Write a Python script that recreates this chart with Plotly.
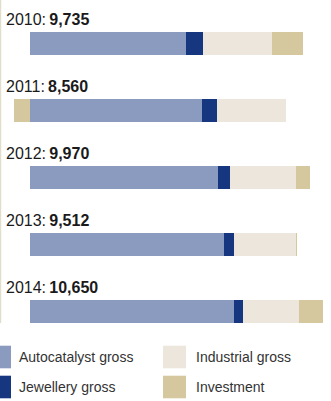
import plotly.graph_objects as go

W, H = 331, 401

years = ["2010", "2011", "2012", "2013", "2014"]
totals = ["9,735", "8,560", "9,970", "9,512", "10,650"]
autocatalyst = [5560, 6155, 6705, 6940, 7280]
jewellery = [615, 505, 445, 355, 320]
industrial = [2465, 2465, 2350, 2207, 1995]
investment = [1095, -565, 470, 10, 855]

series_names = ["Autocatalyst gross", "Jewellery gross", "Industrial gross", "Investment"]
series_values = [autocatalyst, jewellery, industrial, investment]
colors = ["#8a9bbf", "#163680", "#ede6dc", "#d6c89e"]

fig = go.Figure()
for name, vals, col in zip(series_names, series_values, colors):
    fig.add_trace(go.Bar(
        y=list(range(len(years))), x=vals, orientation="h", name=name,
        marker=dict(color=col, line=dict(width=0)), width=0.339,
        hoverinfo="skip", showlegend=False,
    ))

def px(xp):
    return xp / W

def py(yp):
    return 1 - yp / H

scale = 35.6  # units per pixel
zero_px = 29.5
spacing = 67.0
first_center = 43.3

annotations = []
for i, (yr, tot) in enumerate(zip(years, totals)):
    annotations.append(dict(
        xref="paper", yref="y", x=px(3.5), y=i - (first_center - 19.5) / spacing,
        xanchor="left", yanchor="middle", showarrow=False,
        text=f"{yr}:\u2009<b>{tot}</b>",
        font=dict(family="Liberation Sans, Arial, sans-serif", size=16, color="#1a1a1a"),
    ))

shapes = [dict(type="rect", xref="paper", yref="paper", x0=0, x1=px(1.2), y0=py(323), y1=py(0),
               fillcolor="#e2ddc8", line=dict(width=0), layer="below")]

legend_pos = [(0, 11, 357, 17), (0, 11, 387, 17), (163, 186, 357, 194), (163, 186, 387, 194)]
for (x0, x1, yc, tx), name, col in zip(legend_pos, series_names, colors):
    shapes.append(dict(type="rect", xref="paper", yref="paper", x0=px(x0), x1=px(x1),
                       y0=py(yc + 11.3), y1=py(yc - 11.3), fillcolor=col, line=dict(width=0)))
    annotations.append(dict(xref="paper", yref="paper", x=px(tx), y=py(yc), xanchor="left",
                            yanchor="middle", showarrow=False, text=name,
                            font=dict(family="Liberation Sans, Arial, sans-serif", size=14, color="#333333")))

fig.update_layout(
    width=W, height=H, margin=dict(l=0, r=0, t=0, b=0),
    paper_bgcolor="white", plot_bgcolor="white",
    barmode="relative", bargap=0,
    xaxis=dict(range=[-zero_px * scale, (W - zero_px) * scale], visible=False, fixedrange=True),
    yaxis=dict(range=[(H - first_center) / spacing, -first_center / spacing], visible=False, fixedrange=True),
    annotations=annotations, shapes=shapes,
)

fig.write_html("out.html", config={"displayModeBar": False})
